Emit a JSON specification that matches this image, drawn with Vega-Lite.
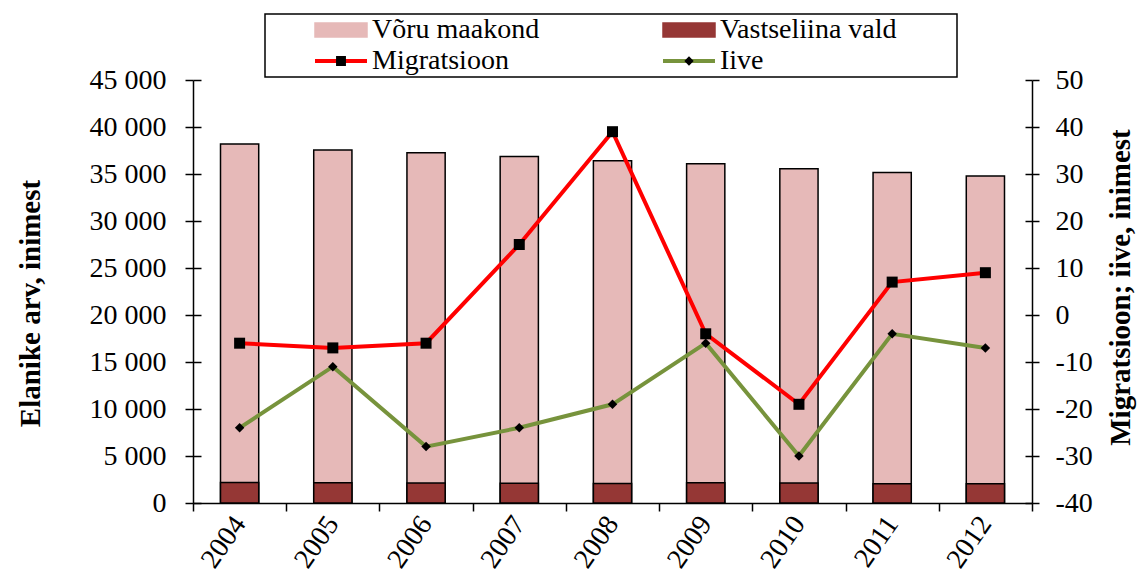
{
  "$schema": "https://vega.github.io/schema/vega-lite/v6.json",
  "width": 839,
  "height": 423,
  "autosize": {"type": "none"},
  "padding": {"left": 193, "top": 80, "right": 107, "bottom": 82},
  "background": "white",
  "config": {
    "font": "Liberation Serif",
    "view": {"stroke": null},
    "axis": {
      "labelFont": "Liberation Serif",
      "labelFontSize": 28,
      "labelColor": "black",
      "titleFont": "Liberation Serif",
      "titleFontSize": 29,
      "titleFontWeight": "bold",
      "titleColor": "black",
      "domainColor": "black",
      "domainWidth": 1.5,
      "tickColor": "black",
      "tickWidth": 1.5,
      "grid": false
    },
    "legend": {
      "labelFont": "Liberation Serif",
      "labelFontSize": 28,
      "labelColor": "black"
    }
  },
  "data": {
    "values": [
      {"year": "2004", "voru": 38200, "vastseliina": 2180, "migratsioon": -6, "iive": -24},
      {"year": "2005", "voru": 37550, "vastseliina": 2160, "migratsioon": -7, "iive": -11},
      {"year": "2006", "voru": 37250, "vastseliina": 2120, "migratsioon": -6, "iive": -28},
      {"year": "2007", "voru": 36850, "vastseliina": 2090, "migratsioon": 15, "iive": -24},
      {"year": "2008", "voru": 36400, "vastseliina": 2080, "migratsioon": 39, "iive": -19},
      {"year": "2009", "voru": 36100, "vastseliina": 2150, "migratsioon": -4, "iive": -6},
      {"year": "2010", "voru": 35550, "vastseliina": 2120, "migratsioon": -19, "iive": -30},
      {"year": "2011", "voru": 35150, "vastseliina": 2050, "migratsioon": 7, "iive": -4},
      {"year": "2012", "voru": 34800, "vastseliina": 2050, "migratsioon": 9, "iive": -7}
    ]
  },
  "resolve": {"scale": {"y": "independent"}},
  "layer": [
    {
      "mark": {"type": "bar", "stroke": "black", "strokeWidth": 1.5, "width": {"band": 0.41}},
      "encoding": {
        "x": {
          "field": "year", "type": "ordinal",
          "scale": {"paddingInner": 0, "paddingOuter": 0},
          "axis": {"title": null, "labelAngle": -55, "tickSize": 8, "tickBand": "extent", "labelPadding": 8, "labelAlign": "right", "labelBaseline": "middle"}
        },
        "y": {
          "field": "voru", "type": "quantitative",
          "scale": {"domain": [0, 45000], "nice": false, "zero": true},
          "axis": {
            "orient": "left",
            "values": [0, 5000, 10000, 15000, 20000, 25000, 30000, 35000, 40000, 45000],
            "tickSize": 8,
            "labelPadding": 19,
            "labelExpr": "replace(format(datum.value, ',d'), ',', ' ')",
            "title": "Elanike arv, inimest",
            "titleAngle": 270,
            "titleX": -163,
            "titleY": 223,
            "titleAlign": "center",
            "titleBaseline": "middle"
          }
        },
        "color": {
          "datum": "Võru maakond",
          "type": "nominal",
          "scale": {
            "domain": ["Võru maakond", "Vastseliina vald", "Migratsioon", "Iive"],
            "range": ["#E6B9B8", "#953735", "#FF0000", "#77933C"]
          },
          "legend": {
            "title": null,
            "orient": "none",
            "legendX": 72,
            "legendY": -66,
            "direction": "horizontal",
            "columns": 2,
            "padding": 2,
            "strokeColor": "black",
            "fillColor": "white",
            "symbolSize": 2704,
            "symbolOffset": 0,
            "labelOffset": 5,
            "columnPadding": 75,
            "rowPadding": 3,
            "labelLimit": 500,
            "encoding": {
              "legend": {"strokeWidth": {"value": 1.5}},
              "symbols": {
                "x": {"value": 74},
                "shape": {"value": {"expr": "(datum.value == 'Migratsioon' || datum.value == 'Iive') ? 'M-1,0H1' : (datum.value == 'Vastseliina vald' ? 'M-1,-0.27H1V0.27H-1ZM10.08,0L10.08,0' : 'M-1,-0.27H1V0.27H-1Z')"}},
                "fill": {"value": {"expr": "datum.value == 'Võru maakond' ? '#E6B9B8' : (datum.value == 'Vastseliina vald' ? '#953735' : 'transparent')"}},
                "stroke": {"value": {"expr": "datum.value == 'Migratsioon' ? '#FF0000' : (datum.value == 'Iive' ? '#77933C' : 'black')"}},
                "strokeWidth": {"value": {"expr": "(datum.value == 'Migratsioon' || datum.value == 'Iive') ? 4 : 1.5"}},
                "opacity": {"value": 1}
              },
              "labels": {
                "x": {"value": 105}
              }
            }
          }
        }
      }
    },
    {
      "mark": {"type": "bar", "stroke": "black", "strokeWidth": 1.5, "width": {"band": 0.41}},
      "encoding": {
        "x": {"field": "year", "type": "ordinal", "scale": {"paddingInner": 0, "paddingOuter": 0}},
        "y": {
          "field": "vastseliina", "type": "quantitative",
          "scale": {"domain": [0, 45000], "nice": false, "zero": true},
          "axis": {
            "orient": "left",
            "offset": -8,
            "values": [0, 5000, 10000, 15000, 20000, 25000, 30000, 35000, 40000, 45000],
            "tickSize": 8,
            "labels": false,
            "domain": false,
            "title": null
          }
        },
        "color": {
          "datum": "Vastseliina vald",
          "type": "nominal",
          "scale": {
            "domain": ["Võru maakond", "Vastseliina vald", "Migratsioon", "Iive"],
            "range": ["#E6B9B8", "#953735", "#FF0000", "#77933C"]
          }
        }
      }
    },
    {
      "mark": {"type": "line", "strokeWidth": 4},
      "encoding": {
        "x": {"field": "year", "type": "ordinal", "scale": {"paddingInner": 0, "paddingOuter": 0}},
        "y": {
          "field": "migratsioon", "type": "quantitative",
          "scale": {"domain": [-40, 50], "nice": false, "zero": false},
          "axis": {
            "orient": "right",
            "values": [-40, -30, -20, -10, 0, 10, 20, 30, 40, 50],
            "tickSize": 7,
            "labelPadding": 16,
            "labelExpr": "'' + datum.value",
            "title": "Migratsioon; iive, inimest",
            "titleAngle": 270,
            "titleX": 88,
            "titleY": 207,
            "titleAlign": "center",
            "titleBaseline": "middle"
          }
        },
        "color": {
          "datum": "Migratsioon",
          "type": "nominal",
          "scale": {
            "domain": ["Võru maakond", "Vastseliina vald", "Migratsioon", "Iive"],
            "range": ["#E6B9B8", "#953735", "#FF0000", "#77933C"]
          }
        }
      }
    },
    {
      "mark": {"type": "line", "strokeWidth": 4},
      "encoding": {
        "x": {"field": "year", "type": "ordinal", "scale": {"paddingInner": 0, "paddingOuter": 0}},
        "y": {
          "field": "iive", "type": "quantitative",
          "scale": {"domain": [-40, 50], "nice": false, "zero": false},
          "axis": {
            "orient": "right",
            "offset": -7,
            "values": [-40, -30, -20, -10, 0, 10, 20, 30, 40, 50],
            "tickSize": 7,
            "labels": false,
            "domain": false,
            "title": null
          }
        },
        "color": {
          "datum": "Iive",
          "type": "nominal",
          "scale": {
            "domain": ["Võru maakond", "Vastseliina vald", "Migratsioon", "Iive"],
            "range": ["#E6B9B8", "#953735", "#FF0000", "#77933C"]
          }
        }
      }
    },
    {
      "mark": {"type": "point", "filled": true, "shape": "square", "opacity": 1, "size": 121, "strokeWidth": 0},
      "encoding": {
        "x": {"field": "year", "type": "ordinal", "scale": {"paddingInner": 0, "paddingOuter": 0}},
        "y": {
          "field": "migratsioon", "type": "quantitative",
          "scale": {"domain": [-40, 50], "nice": false, "zero": false},
          "axis": null
        },
        "fill": {
          "datum": "Migratsioon",
          "type": "nominal",
          "scale": {
            "domain": ["_1", "_2", "Migratsioon", "Iive"],
            "range": ["black", "black", "black", "black"]
          },
          "legend": {
            "title": null,
            "orient": "none",
            "legendX": 72,
            "legendY": -91,
            "direction": "horizontal",
            "columns": 2,
            "padding": 2,
            "symbolSize": 2704,
            "symbolOffset": 0,
            "labelOffset": 5,
            "columnPadding": 75,
            "rowPadding": 3,
            "labelLimit": 500,
            "labelExpr": "''",
            "encoding": {
              "symbols": {
                "x": {"value": 74},
                "shape": {"value": {"expr": "datum.value == 'Iive' ? 'M-1,-0.54L-1,-0.54M7.62,0.54L7.62,0.54M0,-0.18L0.18,0L0,0.18L-0.18,0Z' : (datum.value == 'Migratsioon' ? 'M-1,-0.54L-1,-0.54M7.62,0.54L7.62,0.54M-0.19,-0.19H0.19V0.19H-0.19Z' : 'M-1,-0.54L-1,-0.54M7.62,0.54L7.62,0.54')"}},
                "fill": {"value": "black"},
                "stroke": {"value": "transparent"},
                "strokeWidth": {"value": 0},
                "opacity": {"value": 1}
              },
              "labels": {
                "x": {"value": 105}
              }
            }
          }
        }
      }
    },
    {
      "mark": {"type": "point", "filled": true, "shape": "diamond", "opacity": 1, "size": 90, "strokeWidth": 0},
      "encoding": {
        "x": {"field": "year", "type": "ordinal", "scale": {"paddingInner": 0, "paddingOuter": 0}},
        "y": {
          "field": "iive", "type": "quantitative",
          "scale": {"domain": [-40, 50], "nice": false, "zero": false},
          "axis": null
        },
        "fill": {
          "datum": "Iive",
          "type": "nominal",
          "scale": {
            "domain": ["_1", "_2", "Migratsioon", "Iive"],
            "range": ["black", "black", "black", "black"]
          }
        }
      }
    }
  ]
}
